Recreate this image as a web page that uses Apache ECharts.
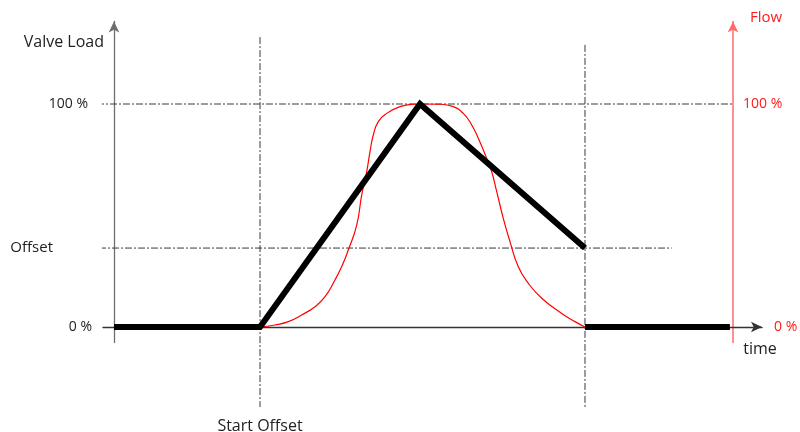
<!DOCTYPE html>
<html>
<head>
<meta charset="utf-8">
<script src="https://cdn.jsdelivr.net/npm/echarts@6/dist/echarts.min.js"></script>
<style>html,body{margin:0;padding:0;background:#fff;}#chart{width:800px;height:432px;}</style>
</head>
<body>
<div id="chart"></div>
<script>
// ---- data (time in arbitrary units: 0 = left axis, 100 = right axis) ----
const timeRange = [-1.777, 104.685];
const levelRange = [-7, 137];
const startOffset = 23.59;
const peakTime = 49.43;
const endTime = 76.09;
const lastTime = 99.5;
const offsetLevel = 35.4;

const valveRamp = [[0, 0], [startOffset, 0], [peakTime, 100], [endTime, offsetLevel]];
const valveAfter = [[endTime, 0], [lastTime, 0]];

const flowTime = [23.59, 26.01, 28.16, 30.32, 32.47, 34.09, 35.70, 36.79, 37.85, 39.21, 40.02, 40.82, 41.36, 41.89, 42.70,
                  44.05, 46.20, 48.35, 49.43, 52.67, 54.81, 56.43, 57.79, 58.85, 60.21, 61.02, 61.83, 62.89, 63.97,
                  65.32, 66.93, 69.10, 72.33, 74.47, 76.09];
const flowValue = [0, 0.9, 2.4, 5.4, 9.1, 13.6, 21.1, 27.1, 34.5, 45.7, 59.2, 69.6, 78.6, 86.1, 92.1,
                   95.8, 98.8, 99.9, 100, 99.9, 98.8, 95.8, 90.6, 84.6, 75.6, 69.6, 60.7, 48.7, 38.3,
                   27.0, 19.6, 12.9, 6.1, 2.4, 0];

const guideStart = [[startOffset, 130], [startOffset, -35.9]];
const guideEnd = [[endTime, 126.5], [endTime, -35.9]];
const guideTop = [[-2.75, 100], [100, 100]];
const guideOffset = [[-8.72, offsetLevel], [90.1, offsetLevel]];

const leftLabels = {0: '0 %', 35.4: 'Offset', 100: '100 %'};
const rightLabels = {0: '0 %', 100: '100 %'};
const FONT = 'Open Sans';

const chart = echarts.init(document.getElementById('chart'));
const dash = {color: '#3a3a3a', width: 1, type: [7, 2, 2, 2]};
const guide = (d) => ({type: 'line', data: d, symbol: 'none', clip: false, silent: true, z: 1, lineStyle: dash, animation: false});

chart.setOption({
  animation: false,
  grid: {left: 103, right: 38, top: 21.5, bottom: 89.4, outerBoundsMode: 'none', containLabel: false},
  xAxis: {
    type: 'value', min: timeRange[0], max: timeRange[1],
    name: 'time', nameLocation: 'end', nameGap: -2,
    nameTextStyle: {color: '#222', fontFamily: FONT, fontSize: 16, align: 'center', verticalAlign: 'top', padding: [14, 0, 0, 0]},
    axisLine: {onZero: true, symbol: ['none', 'arrow'], symbolSize: [8, 11], lineStyle: {color: '#333', width: 1.3}},
    axisTick: {show: false},
    splitLine: {show: false},
    axisLabel: {customValues: [startOffset], formatter: () => 'Start Offset', margin: 76, color: '#222', fontFamily: FONT, fontSize: 16}
  },
  yAxis: [{
    type: 'value', min: levelRange[0], max: levelRange[1], position: 'left',
    name: 'Valve Load', nameLocation: 'end', nameGap: -29,
    nameTextStyle: {color: '#222', fontFamily: FONT, fontSize: 16, align: 'right', verticalAlign: 'bottom', padding: [0, 10, 0, 0]},
    axisLine: {show: true, onZero: true, symbol: ['none', 'arrow'], symbolSize: [8, 11], lineStyle: {color: '#6e6e6e', width: 1.3}},
    axisTick: {show: false},
    splitLine: {show: false},
    axisLabel: {
      customValues: [0, offsetLevel, 100], margin: 11, color: '#222', fontFamily: FONT, fontSize: 14,
      formatter: (v) => v === offsetLevel ? '{o|' + leftLabels[v] + '}' : (v === 100 ? '{h|' + leftLabels[v] + '}' : leftLabels[v]),
      rich: {o: {fontFamily: FONT, fontSize: 15, color: '#222', padding: [0, 39, 0, 0]}, h: {fontFamily: FONT, fontSize: 14, color: '#222', padding: [0, 4, 0, 0]}}
    }
  }, {
    type: 'value', min: levelRange[0], max: levelRange[1], position: 'right', offset: -29,
    name: 'Flow', nameLocation: 'end', nameGap: -4,
    nameTextStyle: {color: '#ff1a1a', fontFamily: FONT, fontSize: 15, align: 'left', verticalAlign: 'bottom', padding: [0, 0, 0, 17]},
    axisLine: {show: true, onZero: false, symbol: ['none', 'arrow'], symbolSize: [8, 11], lineStyle: {color: '#ff6b6b', width: 1.5}},
    axisTick: {show: false},
    splitLine: {show: false},
    axisLabel: {
      customValues: [0, 100], margin: 10, color: '#ff1a1a', fontFamily: FONT, fontSize: 14,
      formatter: (v) => v === 0 ? '{z|' + rightLabels[v] + '}' : rightLabels[v],
      rich: {z: {fontFamily: FONT, fontSize: 14, color: '#ff1a1a', padding: [0, 0, 0, 31]}}
    }
  }],
  series: [
    guide(guideStart), guide(guideEnd), guide(guideTop), guide(guideOffset),
    {type: 'line', name: 'Flow', yAxisIndex: 1, data: flowTime.map((t, i) => [t, flowValue[i]]), smooth: 0.5, symbol: 'none', z: 3,
     lineStyle: {color: '#ff0000', width: 1.2}},
    {type: 'line', name: 'Valve Load', data: valveRamp, symbol: 'none', z: 4,
     lineStyle: {color: '#000', width: 6, cap: 'butt', join: 'miter'}},
    {type: 'line', name: 'Valve Load after', data: valveAfter, symbol: 'none', z: 4,
     lineStyle: {color: '#000', width: 6, cap: 'butt', join: 'miter'}}
  ]
});
</script>
</body>
</html>
